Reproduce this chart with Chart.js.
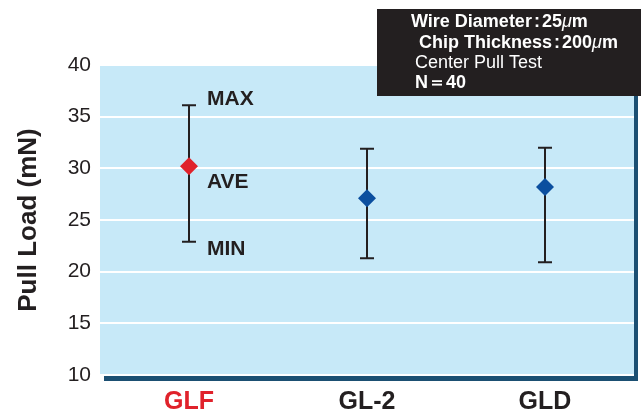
<!DOCTYPE html>
<html><head><meta charset="utf-8">
<script src="https://cdn.jsdelivr.net/npm/chart.js@4.4.1/dist/chart.umd.min.js"></script>
<style>html,body{margin:0;padding:0;background:#fff;}#wrap{width:643px;height:418px;}</style>
</head><body><div id="wrap"><canvas id="c" width="643" height="418"></canvas></div>
<script>
const categories = ["GLF", "GL-2", "GLD"];
const aveValues = [30.2, 27.1, 28.2];
const maxValues = [36.1, 31.9, 32.0];
const minValues = [22.9, 21.3, 20.9];
const yTicks = [10, 15, 20, 25, 30, 35, 40];
const infoLines = [
  {parts:[["Wire Diameter","b"],[":","b"],["25","b"],["μ","bi"],["m","b"]]},
  {parts:[["Chip Thickness","b"],[":","b"],["200","b"],["μ","bi"],["m","b"]]},
  {parts:[["Center Pull Test","n"]]},
  {parts:[["N＝40","b"]]}
];
const FONT = '"Liberation Sans", Arial, Helvetica, sans-serif';
const RED = '#e0222b', BLUE = '#0b4f9f', DARK = '#231f20';

const bgPlugin = {
  id: 'bg',
  beforeDraw(chart) {
    const {ctx, chartArea: a} = chart;
    ctx.save();
    ctx.fillStyle = '#1b4f72';
    ctx.fillRect(a.left + 4, a.top + 5, a.right - a.left, a.bottom - a.top + 1);
    ctx.fillStyle = '#c7e9f8';
    ctx.fillRect(a.left, a.top, a.right - a.left, a.bottom - a.top);
    ctx.restore();
  },
  beforeDatasetsDraw(chart) {
    const {ctx} = chart;
    const xs = chart.scales.x, ys = chart.scales.y;
    ctx.save();
    ctx.strokeStyle = '#231f20';
    ctx.lineWidth = 2;
    categories.forEach((c, i) => {
      const x = xs.getPixelForValue(i);
      const yt = ys.getPixelForValue(maxValues[i]);
      const yb = ys.getPixelForValue(minValues[i]);
      ctx.beginPath();
      ctx.moveTo(x, yt); ctx.lineTo(x, yb);
      ctx.moveTo(x - 7, yt); ctx.lineTo(x + 7, yt);
      ctx.moveTo(x - 7, yb); ctx.lineTo(x + 7, yb);
      ctx.stroke();
    });
    ctx.restore();
  },
  afterDraw(chart) {
    const {ctx} = chart;
    const xs = chart.scales.x, ys = chart.scales.y;
    ctx.save();
    // MAX / AVE / MIN labels
    const lx = xs.getPixelForValue(0) + 18;
    ctx.fillStyle = DARK;
    ctx.font = 'bold 21px ' + FONT;
    ctx.textBaseline = 'middle';
    ctx.textAlign = 'left';
    ctx.fillText('MAX', lx, ys.getPixelForValue(maxValues[0]) - 6);
    ctx.fillText('AVE', lx, ys.getPixelForValue(aveValues[0]) + 16);
    ctx.fillText('MIN', lx, ys.getPixelForValue(minValues[0]) + 8);
    // info box
    ctx.fillStyle = '#231f20';
    ctx.fillRect(377, 9, 264, 87);
    ctx.fillStyle = '#ffffff';
    ctx.textBaseline = 'alphabetic';
    const starts = [411, 419, 415, 415];
    const bases = [27, 48, 68, 88];
    infoLines.forEach((ln, i) => {
      let x = starts[i];
      ln.parts.forEach(([t, s]) => {
        ctx.font = (s === 'b' ? 'bold ' : s === 'bi' ? 'italic ' : '') + '18px ' + FONT;
        if (t === ':') x += 2;
        ctx.fillText(t, x, bases[i]);
        x += ctx.measureText(t).width;
        if (t === ':') x += 2;
      });
    });
    ctx.restore();
  }
};

new Chart(document.getElementById('c'), {
  type: 'line',
  data: {
    labels: categories,
    datasets: [{
      data: aveValues,
      showLine: false,
      pointStyle: 'rectRot',
      pointRadius: 9,
      pointHoverRadius: 9,
      pointBackgroundColor: [RED, BLUE, BLUE],
      pointBorderColor: [RED, BLUE, BLUE],
      pointBorderWidth: 0
    }]
  },
  options: {
    responsive: false,
    animation: false,
    events: [],
    layout: {padding: {left: 0, right: 6, top: 65, bottom: 0}},
    plugins: {legend: {display: false}, tooltip: {enabled: false}},
    scales: {
      x: {
        type: 'category',
        offset: true,
        grid: {display: false, drawTicks: false},
        border: {display: false},
        ticks: {
          padding: 12,
          font: {family: FONT, size: 25, weight: 'bold'},
          color: (ctx) => ctx.index === 0 ? RED : DARK
        },
        afterFit(s) { s.height = 43; }
      },
      y: {
        min: 10, max: 40,
        afterBuildTicks(s) { s.ticks = yTicks.map(v => ({value: v})); },
        grid: {color: '#ffffff', lineWidth: 2, drawTicks: false},
        border: {display: false},
        ticks: {
          padding: 9,
          font: {family: FONT, size: 21},
          color: DARK
        },
        title: {
          display: true,
          text: 'Pull Load (mN)',
          font: {family: FONT, size: 26, weight: 'bold'},
          color: DARK,
          padding: {top: 13, bottom: 0}
        },
        afterFit(s) { s.width = 100; }
      }
    }
  },
  plugins: [bgPlugin]
});
</script>
</body></html>
